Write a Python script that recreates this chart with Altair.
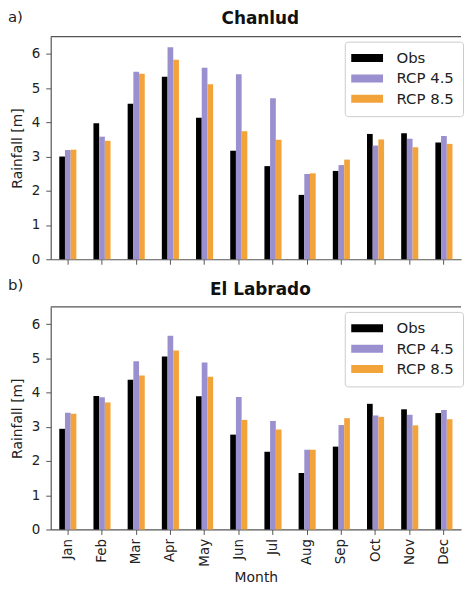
import altair as alt
import pandas as pd

months = ["Jan", "Feb", "Mar", "Apr", "May", "Jun", "Jul", "Aug", "Sep", "Oct", "Nov", "Dec"]
series = ["Obs", "RCP 4.5", "RCP 8.5"]
colors = ["#000000", "#9a8fcf", "#f2a33a"]

chanlud_obs = [3.00, 3.97, 4.54, 5.33, 4.13, 3.17, 2.72, 1.88, 2.58, 3.66, 3.68, 3.41]
chanlud_rcp45 = [3.19, 3.58, 5.48, 6.19, 5.59, 5.40, 4.70, 2.49, 2.75, 3.32, 3.52, 3.60]
chanlud_rcp85 = [3.20, 3.46, 5.42, 5.83, 5.11, 3.74, 3.49, 2.51, 2.91, 3.50, 3.27, 3.37]

labrado_obs = [2.94, 3.90, 4.37, 5.05, 3.89, 2.77, 2.27, 1.65, 2.42, 3.67, 3.51, 3.40]
labrado_rcp45 = [3.41, 3.86, 4.91, 5.66, 4.88, 3.87, 3.17, 2.33, 3.05, 3.33, 3.35, 3.49]
labrado_rcp85 = [3.38, 3.71, 4.50, 5.23, 4.46, 3.20, 2.92, 2.33, 3.25, 3.29, 3.04, 3.22]

FONT = "DejaVu Sans"
LEGEND_PATH = "M-3.2,-0.8H3.2V0.8H-3.2Z"
FRAME = "#555555"
W, H = 413, 224


def make_df(obs, r45, r85):
    rows = []
    for s, vals in zip(series, [obs, r45, r85]):
        for m, v in zip(months, vals):
            rows.append({"Month": m, "Series": s, "Rainfall": v})
    return pd.DataFrame(rows)


def panel(df, title, tag, tag_y, title_y, show_x_labels):
    bars = alt.Chart(df).mark_bar().encode(
        x=alt.X(
            "Month:N",
            sort=months,
            scale=alt.Scale(paddingInner=0.5, paddingOuter=0.25),
            axis=alt.Axis(
                labels=show_x_labels,
                labelAngle=-90,
                labelAlign="right",
                labelBaseline="middle",
                title="Month" if show_x_labels else None,
                ticks=True,
                tickSize=5,
                labelPadding=4,
                titlePadding=4,
            ),
        ),
        xOffset=alt.XOffset("Series:N", sort=series, scale=alt.Scale(paddingInner=0, paddingOuter=0)),
        y=alt.Y(
            "Rainfall:Q",
            scale=alt.Scale(domain=[0, 6.5], nice=False),
            axis=alt.Axis(values=[0, 1, 2, 3, 4, 5, 6], title="Rainfall [m]", tickSize=5,
                          labelPadding=6, titlePadding=7),
        ),
        color=alt.Color(
            "Series:N",
            sort=series,
            scale=alt.Scale(domain=series, range=colors),
            legend=alt.Legend(
                title=None,
                orient="none",
                legendX=296,
                legendY=5,
                fillColor="white",
                strokeColor="#cccccc",
                padding=9,
                cornerRadius=3,
                symbolType=LEGEND_PATH,
                symbolSize=100,
                symbolStrokeWidth=0,
                symbolOffset=6,
                labelOffset=22,
                labelFontSize=15,
                labelFont=FONT,
                labelColor="#222222",
                rowPadding=4.5,
            ),
        ),
    )
    top_frame = alt.Chart(pd.DataFrame({"f": [0]})).mark_rule(
        color=FRAME, strokeWidth=1.2
    ).encode(x=alt.value(0), x2=alt.value(W), y=alt.value(0))
    tag_text = alt.Chart(pd.DataFrame({"t": [tag]})).mark_text(
        align="left", baseline="middle", fontSize=15, font=FONT, color="#222222"
    ).encode(text="t:N", x=alt.value(-43), y=alt.value(tag_y))
    title_text = alt.Chart(pd.DataFrame({"t": [title]})).mark_text(
        align="center", baseline="middle", fontSize=17, font=FONT, fontWeight="bold", color="#111111"
    ).encode(text="t:N", x=alt.value(211), y=alt.value(title_y))
    return alt.layer(bars, top_frame, tag_text, title_text).properties(
        width=W, height=H, view=alt.ViewBackground(stroke="white", strokeOpacity=0, strokeWidth=0)
    )


top = panel(make_df(chanlud_obs, chanlud_rcp45, chanlud_rcp85), "Chanlud", "a)", -19.5, -18, False)
bottom = panel(make_df(labrado_obs, labrado_rcp45, labrado_rcp85), "El Labrado", "b)", -22, -17, True)

chart = (
    alt.vconcat(top, bottom, spacing=12)
    .resolve_legend(color="independent")
    .resolve_scale(color="independent")
    .properties(padding={"left": 0, "top": 0, "right": 0, "bottom": 0})
    .configure_view(stroke="white", strokeOpacity=0, strokeWidth=0)
    .configure_axis(
        grid=False,
        domainColor=FRAME,
        domainWidth=1.2,
        tickColor=FRAME,
        labelFont=FONT,
        titleFont=FONT,
        labelFontSize=13.5,
        titleFontSize=14,
        labelColor="#222222",
        titleColor="#222222",
        titleFontWeight="normal",
    )
)

chart.save("out.html", embed_options={"renderer": "svg", "actions": False})
